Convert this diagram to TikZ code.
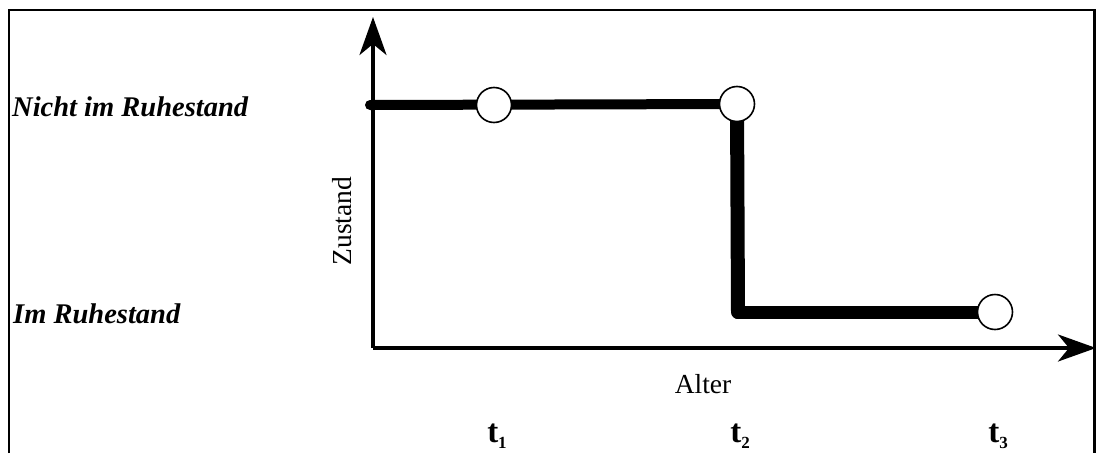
\documentclass[tikz,border=0pt]{standalone}
\usepackage{fontspec}
\setmainfont{Liberation Serif}
\usetikzlibrary{arrows.meta}
\tikzset{
  frame/.style={line width=2.5pt, line cap=butt},
  axis/.style={line width=3.5pt, -{Stealth[length=38pt,width=27pt,inset=11pt]}},
  state/.style={line width=#1, line cap=round, line join=round},
  dot/.style={circle, draw, fill=white, line width=1.6pt, minimum size=35pt, inner sep=0pt},
  statelabel/.style={font=\fontsize{28.5}{33}\selectfont\bfseries\itshape, anchor=base west, inner sep=0pt},
  axislabel/.style={font=\fontsize{27.5}{32}\selectfont, inner sep=0pt},
  tlabel/.style={font=\fontsize{33}{36}\selectfont\bfseries, anchor=base, inner sep=0pt}
}
\begin{document}
\begin{tikzpicture}[x=1pt, y=-1pt]
\useasboundingbox (0,0) rectangle (1096,453);
% frame
\draw[frame] (9,453) -- (9,10) -- (1094.5,10) -- (1094.5,453);
% axes
\coordinate (O) at (373,348);
\coordinate (ytip) at (373,17);
\coordinate (xtip) at (1096,348);
\draw[axis] (O) -- (ytip);
\draw[axis] (O) -- (xtip);
% state path
\coordinate (s0) at (370,105);
\coordinate (p1) at (494,105);
\coordinate (p2) at (737,104);
\coordinate (k) at (738,312);
\coordinate (p3) at (995,312);
\draw[state=10pt] (s0) -- (p2);
\draw[state=14pt] (p2) -- (k);
\draw[state=13pt] (k) -- (p3);
\node[dot] (c1) at (p1) {};
\node[dot] (c2) at (p2) {};
\node[dot] (c3) at (p3) {};
% labels
\node[statelabel] (nr) at (12,116) {Nicht im Ruhestand};
\node[statelabel] (ir) at (13,323) {Im Ruhestand};
\node[axislabel, rotate=90] (zu) at (342,221) {Zustand};
\node[axislabel, anchor=base] (al) at (703,393) {Alter};
\node[tlabel] (t1) at (497,442) {t\raisebox{-0.2em}{\fontsize{17}{17}\selectfont 1}};
\node[tlabel] (t2) at (740,442) {t\raisebox{-0.2em}{\fontsize{17}{17}\selectfont 2}};
\node[tlabel] (t3) at (998,442) {t\raisebox{-0.2em}{\fontsize{17}{17}\selectfont 3}};
\end{tikzpicture}
\end{document}
